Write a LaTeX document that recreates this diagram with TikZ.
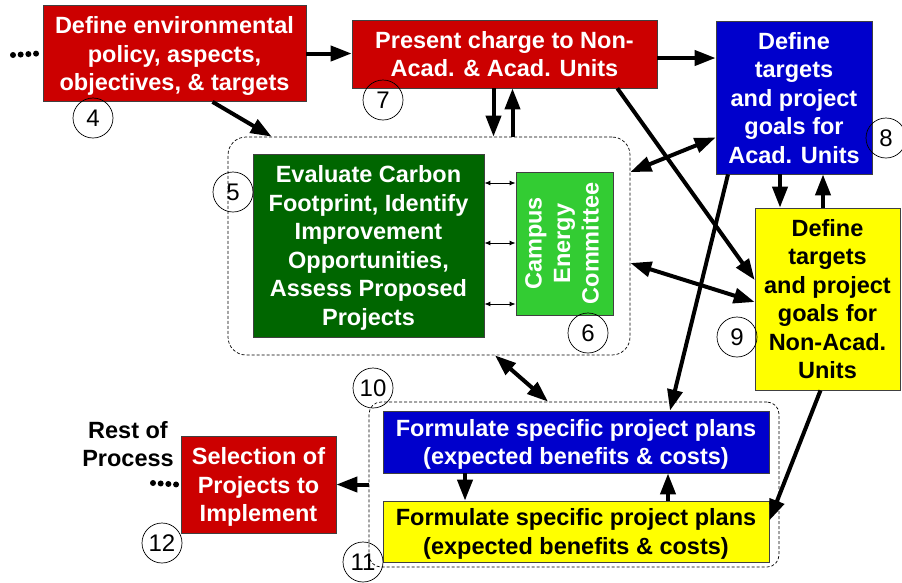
\documentclass[tikz,border=0pt]{standalone}
\usepackage{fontspec}
\setmainfont{Liberation Sans}
\usetikzlibrary{arrows.meta,calc}
\definecolor{boxred}{RGB}{204,0,0}
\definecolor{boxblue}{RGB}{0,0,204}
\definecolor{darkgreen}{RGB}{0,102,0}
\definecolor{lightgreen}{RGB}{51,204,51}
\definecolor{boxyellow}{RGB}{255,255,0}
\begin{document}
\begin{tikzpicture}[x=1pt,y=-1pt,
    box/.style={draw=black!75,line width=0.7pt,inner sep=0pt,align=center,text depth=0pt,
      font=\bfseries\fontsize{23.5}{28.5}\selectfont},
    group/.style={draw=black,line width=0.7pt,dash pattern=on 3pt off 2pt},
    num/.style={draw,circle,line width=0.7pt,minimum size=40pt,inner sep=0pt,
      font=\fontsize{24}{24}\selectfont},
    arr/.style={line width=4pt,-{Triangle[length=21pt,width=15pt]}},
    darr/.style={line width=4pt,{Triangle[length=21pt,width=15pt]}-{Triangle[length=21pt,width=15pt]}},
    small/.style={line width=1pt,{Latex[length=6pt,width=5pt]}-{Latex[length=6pt,width=5pt]}},
    dots/.style={line width=6pt,line cap=round,dash pattern=on 0pt off 7.7pt}]
  \useasboundingbox (0,0) rectangle (902,582);
  % dashed groups
  \node[group,rounded corners=18pt,minimum width=402pt,minimum height=218pt] (grpA) at (429,246) {};
  \node[group,rounded corners=12pt,minimum width=410pt,minimum height=165pt] (grpB) at (574,484.5) {};
  % boxes
  \node[box,fill=boxred,text=white,minimum width=263pt,minimum height=96pt] (box4) at (174.5,53.5)
    {Define environmental\\policy, aspects,\\objectives, \& targets};
  \node[box,fill=boxred,text=white,minimum width=305pt,minimum height=68pt] (box7) at (504.5,54)
    {Present charge to Non-\\Acad. \& Acad. Units};
  \node[box,fill=boxblue,text=white,minimum width=156pt,minimum height=153pt] (box8) at (794,97.5)
    {Define\\targets\\and project\\goals for\\Acad. Units};
  \node[box,fill=boxyellow,minimum width=145pt,minimum height=182pt] (box9) at (827.5,299)
    {Define\\targets\\and project\\goals for\\Non-Acad.\\Units};
  \node[box,fill=darkgreen,text=white,minimum width=231pt,minimum height=183pt] (box5) at (368.5,245.5)
    {Evaluate Carbon\\Footprint, Identify\\Improvement\\Opportunities,\\Assess Proposed\\Projects};
  \node[box,fill=lightgreen,text=white,minimum width=97pt,minimum height=143pt] (box6) at (564.5,243.5)
    {\rotatebox{90}{\begin{tabular}{@{}c@{}}Campus\\Energy\\Committee\end{tabular}}};
  \node[box,fill=boxblue,text=white,minimum width=386pt,minimum height=62pt] (box10) at (576,442)
    {Formulate specific project plans\\(expected benefits \& costs)};
  \node[box,fill=boxyellow,minimum width=386pt,minimum height=61pt] (box11) at (576,531.5)
    {Formulate specific project plans\\(expected benefits \& costs)};
  \node[box,fill=boxred,text=white,minimum width=155pt,minimum height=97pt] (box12) at (258.5,484.5)
    {Selection of\\Projects to\\Implement};
  \node[align=center,font=\bfseries\fontsize{23.5}{28.5}\selectfont] (rest) at (128,444) {Rest of\\Process};
  % step numbers
  \node[num] (n4) at (93,118) {4};
  \node[num] (n5) at (233,192) {5};
  \node[num] (n6) at (588,333) {6};
  \node[num] (n7) at (383,100) {7};
  \node[num] (n8) at (886,138) {8};
  \node[num] (n9) at (737,337) {9};
  \node[num] (n10) at (373,388) {10};
  \node[num] (n11) at (363,562) {11};
  \node[num] (n12) at (162,543) {12};
  % dotted leads
  \coordinate (dotL) at (13,55);
  \coordinate (dotR) at (153,483);
  \draw[dots] (dotL) -- ($(box4.west)+(-5,0)$);
  \draw[dots] (dotR) -- ($(box12.west)+(-4,0)$);
  % connectors
  \draw[arr] (box4.east) -- (box4.east -| box7.west);
  \draw[arr] ($(box4.south)+(38,0)$) -- ($(grpA.north west)+(44,0)$);
  \draw[arr] ($(box7.south)+(-11,0)$) -- ($(box7.south |- grpA.north)+(-11,0)$);
  \draw[arr] ($(box7.south |- grpA.north)+(8,0)$) -- ($(box7.south)+(8,0)$);
  \draw[arr] ($(box7.east)+(0,4)$) -- ($(box7.east -| box8.west)+(0,4)$);
  \draw[arr] ($(box7.south east)+(-40,0)$) -- ($(box9.west)+(0,-19)$);
  \draw[darr] ($(grpA.east)+(0,-74)$) -- ($(box8.west)+(0,40)$);
  \draw[darr] ($(grpA.east)+(0,17)$) -- ($(box9.west)+(0,3)$);
  \draw[arr] ($(box8.south)+(-14,0)$) -- ($(box8.south |- box9.north)+(-14,0)$);
  \draw[arr] ($(box8.south |- box9.north)+(29,0)$) -- ($(box8.south)+(29,0)$);
  \draw[arr] ($(box8.south)+(-66,0)$) -- ($(box10.north)+(94,0)$);
  \draw[darr] ($(grpA.south)+(66,0)$) -- ($(grpB.north)+(-26,0)$);
  \draw[arr] ($(box9.south)+(-7,0)$) -- ($(box11.east)+(0,-11)$);
  \draw[arr] ($(box10.south)+(-111,0)$) -- ($(box10.south |- box11.north)+(-111,0)$);
  \draw[arr] ($(box10.south |- box11.north)+(92,0)$) -- ($(box10.south)+(92,0)$);
  \draw[arr] (grpB.west) -- (grpB.west -| box12.east);
  \foreach \d in {-62.5,-2.5,58.5}
    \draw[small] ($(box5.east)+(0,\d)$) coordinate (p) -- (p -| box6.west);
\end{tikzpicture}
\end{document}
